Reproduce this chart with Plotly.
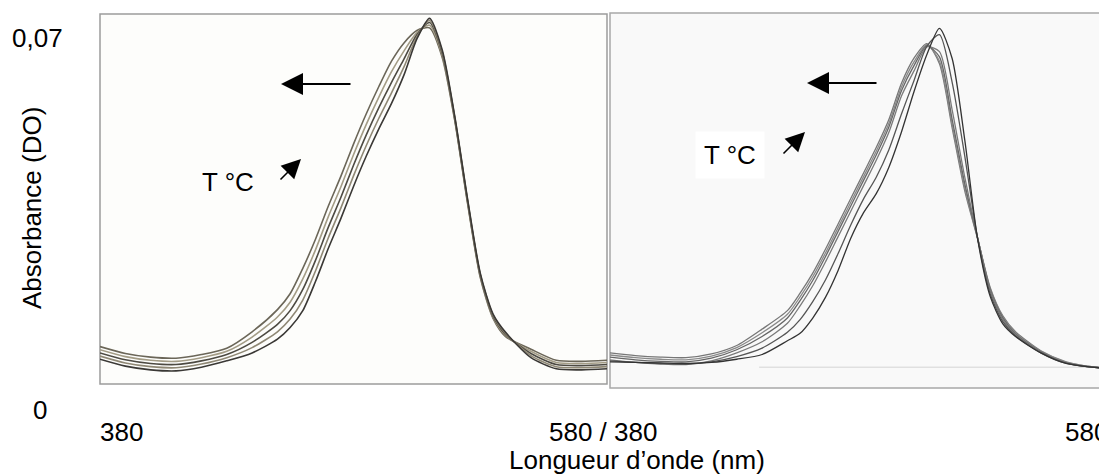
import plotly.graph_objects as go

# wavelength grid (nm) shared by every spectrum
wavelength = [380, 390, 400, 410, 420, 430, 440, 450, 455, 460, 465, 470, 475, 480, 485,
              490, 495, 500, 505, 510, 515, 520, 525, 530, 535, 540, 550, 560, 570, 580]

# left panel: absorbance, highest temperature first
left_t1 = [0.0120, 0.0107, 0.0100, 0.0098, 0.0105, 0.0117, 0.0148, 0.0190, 0.0220, 0.0268,
           0.0323, 0.0385, 0.0442, 0.0503, 0.0560, 0.0612, 0.0660, 0.0695, 0.0718, 0.0723,
           0.0667, 0.0546, 0.0391, 0.0251, 0.0174, 0.0139, 0.0115, 0.0094, 0.0092, 0.0094]
left_t2 = [0.0114, 0.0101, 0.0094, 0.0092, 0.0099, 0.0111, 0.0138, 0.0176, 0.0204, 0.0248,
           0.0303, 0.0365, 0.0422, 0.0483, 0.0540, 0.0592, 0.0640, 0.0680, 0.0714, 0.0728,
           0.0671, 0.0548, 0.0393, 0.0253, 0.0176, 0.0141, 0.0111, 0.0090, 0.0088, 0.0090]
left_t3 = [0.0108, 0.0095, 0.0088, 0.0086, 0.0093, 0.0105, 0.0128, 0.0162, 0.0188, 0.0228,
           0.0283, 0.0345, 0.0402, 0.0463, 0.0520, 0.0572, 0.0620, 0.0665, 0.0710, 0.0733,
           0.0675, 0.0550, 0.0395, 0.0255, 0.0178, 0.0143, 0.0107, 0.0086, 0.0084, 0.0086]
left_t4 = [0.0102, 0.0089, 0.0082, 0.0080, 0.0087, 0.0099, 0.0118, 0.0148, 0.0172, 0.0208,
           0.0263, 0.0325, 0.0382, 0.0443, 0.0500, 0.0552, 0.0600, 0.0650, 0.0706, 0.0737,
           0.0678, 0.0552, 0.0397, 0.0257, 0.0180, 0.0145, 0.0103, 0.0082, 0.0080, 0.0082]
left_t5 = [0.0096, 0.0083, 0.0076, 0.0074, 0.0081, 0.0093, 0.0108, 0.0134, 0.0156, 0.0188,
           0.0243, 0.0305, 0.0362, 0.0423, 0.0480, 0.0532, 0.0580, 0.0635, 0.0702, 0.0741,
           0.0681, 0.0554, 0.0399, 0.0259, 0.0182, 0.0147, 0.0099, 0.0078, 0.0076, 0.0078]

# right panel
right_t1 = [0.0108, 0.0103, 0.0100, 0.0099, 0.0106, 0.0122, 0.0153, 0.0188, 0.0221, 0.0259,
            0.0304, 0.0352, 0.0400, 0.0448, 0.0496, 0.0549, 0.0618, 0.0666, 0.0693, 0.0655,
            0.0534, 0.0414, 0.0325, 0.0232, 0.0178, 0.0148, 0.0112, 0.0091, 0.0082, 0.0079]
right_t2 = [0.0104, 0.0099, 0.0096, 0.0095, 0.0102, 0.0118, 0.0146, 0.0181, 0.0214, 0.0252,
            0.0297, 0.0345, 0.0393, 0.0441, 0.0489, 0.0542, 0.0611, 0.0659, 0.0691, 0.0660,
            0.0540, 0.0420, 0.0326, 0.0230, 0.0176, 0.0146, 0.0111, 0.0090, 0.0082, 0.0079]
right_t3 = [0.0100, 0.0095, 0.0092, 0.0091, 0.0098, 0.0114, 0.0139, 0.0174, 0.0207, 0.0245,
            0.0290, 0.0338, 0.0386, 0.0434, 0.0482, 0.0535, 0.0604, 0.0652, 0.0689, 0.0668,
            0.0550, 0.0428, 0.0326, 0.0228, 0.0174, 0.0144, 0.0110, 0.0089, 0.0081, 0.0079]
right_t4 = [0.0095, 0.0090, 0.0087, 0.0086, 0.0093, 0.0108, 0.0129, 0.0164, 0.0197, 0.0235,
            0.0280, 0.0328, 0.0376, 0.0424, 0.0472, 0.0525, 0.0594, 0.0642, 0.0687, 0.0678,
            0.0568, 0.0440, 0.0327, 0.0226, 0.0171, 0.0142, 0.0109, 0.0089, 0.0081, 0.0078]
right_t5 = [0.0093, 0.0090, 0.0088, 0.0087, 0.0091, 0.0101, 0.0117, 0.0147, 0.0171, 0.0205,
            0.0246, 0.0296, 0.0350, 0.0399, 0.0440, 0.0492, 0.0560, 0.0624, 0.0688, 0.0710,
            0.0620, 0.0480, 0.0326, 0.0220, 0.0167, 0.0140, 0.0108, 0.0088, 0.0081, 0.0078]
right_t6 = [0.0091, 0.0090, 0.0089, 0.0088, 0.0090, 0.0096, 0.0105, 0.0131, 0.0145, 0.0174,
            0.0213, 0.0264, 0.0325, 0.0373, 0.0409, 0.0459, 0.0526, 0.0603, 0.0672, 0.0722,
            0.0665, 0.0510, 0.0325, 0.0215, 0.0163, 0.0139, 0.0108, 0.0088, 0.0081, 0.0078]

y_tick_labels = ["0,07", "0"]
x_tick_labels = ["380", "580 / 380", "580"]

# the page body has an 8px margin, so the figure is made 8px smaller on each side
OFF = 8
W, H = 1107 - OFF, 475 - OFF


def px(x):
    return (x - OFF) / W


def py(y):
    return 1 - (y - OFF) / H


FONT = dict(family="Arial, Liberation Sans, sans-serif", size=26, color="black")

fig = go.Figure()

left_colors = ['#6b6658', '#a39c86', '#4d4a42', '#8f8875', '#3a3835']
for ys, c in zip([left_t1, left_t2, left_t3, left_t4, left_t5], left_colors):
    fig.add_trace(go.Scatter(x=wavelength, y=ys, mode='lines', xaxis='x', yaxis='y',
                             line=dict(color=c, width=1.6, shape='spline', smoothing=0.7)))

right_colors = ['#777777', '#8a8a8a', '#666666', '#7a7a7a', '#555555', '#333333']
for ys, c in zip([right_t1, right_t2, right_t3, right_t4, right_t5, right_t6], right_colors):
    fig.add_trace(go.Scatter(x=wavelength, y=ys, mode='lines', xaxis='x2', yaxis='y2',
                             line=dict(color=c, width=1.3, shape='spline', smoothing=0.7)))

annotations = [
    dict(text=y_tick_labels[0], x=px(37), y=py(38)),
    dict(text=y_tick_labels[1], x=px(40), y=py(410)),
    dict(text=x_tick_labels[0], x=px(121), y=py(432)),
    dict(text=x_tick_labels[1], x=px(603), y=py(432)),
    dict(text=x_tick_labels[2], x=px(1063), y=py(432), xanchor='left'),
    dict(text="Longueur d’onde (nm)", x=px(637), y=py(460)),
    dict(text="Absorbance (DO)", x=px(32), y=py(208), textangle=-90),
    dict(text="T °C", x=px(228), y=py(182)),
    dict(text="T °C", x=px(730), y=py(155), bgcolor='white', borderpad=8),
]
for a in annotations:
    a.setdefault('xanchor', 'center')
    a.update(xref='paper', yref='paper', yanchor='middle', showarrow=False, font=FONT)

# arrows: (head x, head y, tail x, tail y, width)
arrows = [(281, 84, 352, 84, 2), (301, 159, 279, 181, 1.6),
          (807, 83, 878, 83, 2), (805, 132, 782, 155, 1.6)]
for hx, hy, tx, ty, w in arrows:
    annotations.append(dict(x=px(hx), y=py(hy), xref='paper', yref='paper', text='',
                            showarrow=True, ax=tx - hx, ay=ty - hy, arrowhead=2,
                            arrowsize=2.2 if w == 2 else 2.4, arrowwidth=w,
                            arrowcolor='black'))

fig.update_layout(
    width=W, height=H,
    margin=dict(l=0, r=0, t=0, b=0, pad=0),
    paper_bgcolor='white', plot_bgcolor='white',
    showlegend=False,
    xaxis=dict(domain=[px(100), px(607)], range=[380, 580], visible=False),
    yaxis=dict(domain=[py(384), py(14)], range=[0.00492, 0.07492], visible=False),
    xaxis2=dict(domain=[px(610), 1], range=[380, 576.1], visible=False, anchor='y2'),
    yaxis2=dict(domain=[py(388), py(13)], range=[0.00416, 0.07511], visible=False, anchor='x2'),
    annotations=annotations,
    shapes=[
        dict(type='rect', xref='x domain', yref='y domain', x0=0, x1=1, y0=0, y1=1,
             line=dict(color='#9c9c9c', width=1.5), fillcolor='#fdfdfb', layer='below'),
        dict(type='rect', xref='x2 domain', yref='y2 domain', x0=0, x1=1.05, y0=0, y1=1,
             line=dict(color='#a8a8a8', width=1.5), fillcolor='#f9f9f9', layer='below'),
        dict(type='line', xref='x2 domain', yref='y2', x0=0.3, x1=1, y0=0.0081, y1=0.0081,
             line=dict(color='#d4d4d4', width=1), layer='below'),
    ],
)

fig.write_html("out.html")
